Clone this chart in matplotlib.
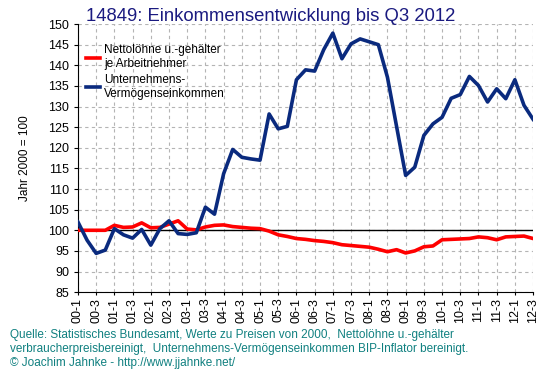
import matplotlib
matplotlib.use('agg')
import matplotlib.pyplot as plt

plt.rcParams['font.family'] = ['Liberation Sans', 'DejaVu Sans']

# quarters 2000-Q1 .. 2012-Q3
quarters = ['%02d-%d' % (y, q) for y in range(0, 13) for q in range(1, 5)][:51]

netto = [100, 100, 100, 100, 101.2, 100.7, 100.8, 101.8, 100.6, 100.7,
         101.5, 102.3, 100.3, 100.1, 100.8, 101.2, 101.3, 100.9, 100.7, 100.5,
         100.4, 99.8, 98.9, 98.5, 98.0, 97.8, 97.5, 97.3, 97.0, 96.5,
         96.3, 96.1, 95.9, 95.4, 94.8, 95.3, 94.5, 95.0, 96.0, 96.2,
         97.7, 97.8, 97.9, 98.0, 98.4, 98.2, 97.7, 98.4, 98.5, 98.6,
         98.0]

unternehmen = [102.0, 97.6, 94.4, 95.2, 100.4, 98.9, 98.1, 100.2, 96.4, 100.4,
               102.3, 99.2, 99.0, 99.4, 105.6, 103.9, 113.7, 119.6, 117.7, 117.3,
               117.0, 128.2, 124.6, 125.2, 136.5, 138.9, 138.6, 143.8, 147.8, 141.6,
               145.2, 146.4, 145.7, 145.0, 137.1, 125.2, 113.3, 115.3, 123.0, 125.8,
               127.4, 132.0, 132.9, 137.3, 135.1, 131.1, 134.3, 131.9, 136.5, 130.3,
               126.9]

x = list(range(len(quarters)))

fig = plt.figure(figsize=(5.53, 3.76), dpi=100)
ax = fig.add_axes([0.141, 0.223, 0.823, 0.713])

ax.axhline(100, color='black', linewidth=1, zorder=2)
ax.plot(x, netto, color='#ff0000', linewidth=2.6, label='Nettolöhne u.-gehälter\nje Arbeitnehmer', zorder=3)
ax.plot(x, unternehmen, color='#0a2a7e', linewidth=2.6, label='Unternehmens-\nVermögenseinkommen', zorder=3)

ax.set_xlim(0, 50)
ax.set_ylim(85, 150)
ax.set_yticks(range(85, 151, 5))
ax.set_xticks(x[::2])
ax.set_xticklabels(quarters[::2], rotation=90, fontsize=9)
ax.tick_params(axis='y', labelsize=9, length=3)
ax.tick_params(axis='x', length=2, pad=2)
ax.grid(True, color='#b4b4b4', linestyle=(0, (3, 3)), linewidth=0.8)
for s in ['top', 'right']:
    ax.spines[s].set_visible(False)
ax.set_ylabel('Jahr 2000 = 100', fontsize=8.5, labelpad=12)

ax.legend(loc='upper left', bbox_to_anchor=(0.0, 0.955), frameon=False, fontsize=8.5,
          handlelength=1.2, handletextpad=0.3, labelspacing=0.3, borderaxespad=0.3)

fig.text(0.155, 0.957, '14849: Einkommensentwicklung bis Q3 2012', fontsize=13.3,
         color='#1a1a80', va='center')

fig.text(0.018, 0.072, 'Quelle: Statistisches Bundesamt, Werte zu Preisen von 2000,  Nettolöhne u.-gehälter\n'
         'verbraucherpreisbereinigt,  Unternehmens-Vermögenseinkommen BIP-Inflator bereinigt.\n'
         '© Joachim Jahnke - http://www.jjahnke.net/', fontsize=8.5, color='#108080',
         va='center', linespacing=1.2)

fig.savefig('out.png', dpi=100)
